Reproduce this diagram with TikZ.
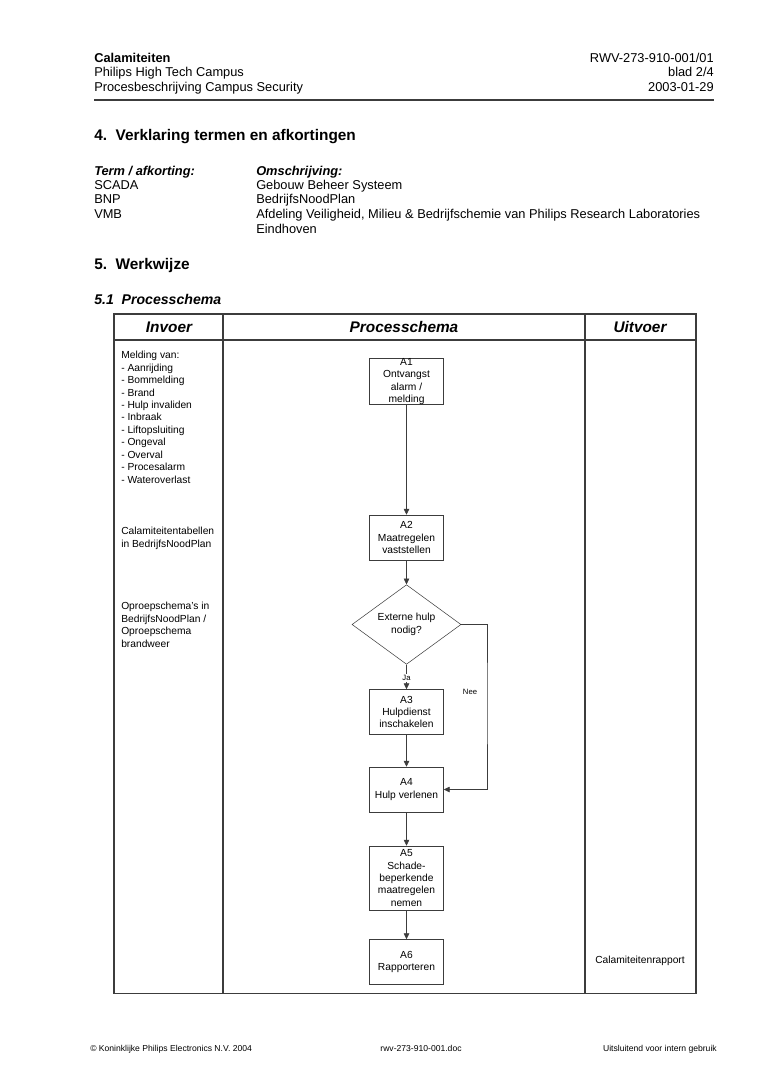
\documentclass[tikz,border=0pt]{standalone}
\usepackage{fontspec}
\setmainfont{Liberation Sans}
\usetikzlibrary{shapes.geometric,arrows.meta}
\definecolor{lijn}{RGB}{60,60,60}

\begin{document}
\begin{tikzpicture}[x=0.78pt, y=-0.78pt,
    txt/.style={inner sep=0, anchor=base west, font=\fontsize{10}{11.5}\selectfont},
    kop/.style={inner sep=0, anchor=base west, font=\fontsize{12}{14}\selectfont\bfseries},
    kolom/.style={inner sep=0, anchor=base, font=\fontsize{12}{14}\selectfont\bfseries\itshape},
    klein/.style={inner sep=0, anchor=north west, align=left, font=\fontsize{8}{9.7}\selectfont},
    voet/.style={inner sep=0, anchor=base, font=\fontsize{6.7}{8}\selectfont},
    blok/.style={draw=lijn, thin, minimum width=57.7pt, minimum height=35.1pt, inner sep=0, align=center, font=\fontsize{8}{9.7}\selectfont},
    keuze/.style={draw=lijn, thin, diamond, minimum width=85pt, minimum height=50.7pt, inner sep=0, align=center, font=\fontsize{8}{9.7}\selectfont},
    pijl/.style={draw=lijn, thin, -{Triangle[length=4.5pt,width=4.2pt]}}]
  \useasboundingbox (0,0) rectangle (764,1080);
  \fill[white] (0,0) rectangle (764,1080);

  % kop van de pagina
  \node[txt, font=\fontsize{10}{11.5}\selectfont\bfseries] (titel) at (94,62.5) {Calamiteiten};
  \node[txt] (campus) at (94,76.5) {Philips High Tech Campus};
  \node[txt] (proces) at (94,91.5) {Procesbeschrijving Campus Security};
  \node[txt, anchor=base east] (nummer) at (714,62.5) {RWV-273-910-001/01};
  \node[txt, anchor=base east] (blad) at (714,76.5) {blad 2/4};
  \node[txt, anchor=base east] (datum) at (714,91.5) {2003-01-29};
  \draw[lijn, line width=0.9pt] (94,100) -- (714,100);

  % hoofdstuk 4
  \node[kop] (h4) at (94,140.5) {4.\ \ Verklaring termen en afkortingen};
  \node[txt, font=\fontsize{10}{11.5}\selectfont\bfseries\itshape] (term) at (94,175.5) {Term / afkorting:};
  \node[txt, font=\fontsize{10}{11.5}\selectfont\bfseries\itshape] (omschr) at (256,175.5) {Omschrijving:};
  \node[txt] (t1) at (94,189.5) {SCADA};
  \node[txt] (t2) at (94,203.5) {BNP};
  \node[txt] (t3) at (94,218.5) {VMB};
  \node[txt] (o1) at (256,189.5) {Gebouw Beheer Systeem};
  \node[txt] (o2) at (256,203.5) {BedrijfsNoodPlan};
  \node[txt] (o3) at (256,218.5) {Afdeling Veiligheid, Milieu \& Bedrijfschemie van Philips Research Laboratories};
  \node[txt] (o4) at (256,233.5) {Eindhoven};

  % hoofdstuk 5
  \node[kop] (h5) at (94,269.5) {5.\ \ Werkwijze};
  \node[kop, font=\fontsize{11}{13}\selectfont\bfseries\itshape] (h51) at (94,304) {5.1\ \ Processchema};

  % tabel
  \draw[lijn, line width=0.8pt] (114,314) rectangle (696,993);
  \draw[lijn, line width=0.8pt] (114,340) -- (696,340);
  \draw[lijn, line width=0.8pt] (223,314) -- (223,993);
  \draw[lijn, line width=0.8pt] (585,314) -- (585,993);
  \node[kolom] (invoer) at (169,332.5) {Invoer};
  \node[kolom] (schema) at (404,332.5) {Processchema};
  \node[kolom] (uitvoer) at (640,332.5) {Uitvoer};

  % invoer
  \node[klein] (melding) at (121,351) {Melding van:\\- Aanrijding\\- Bommelding\\- Brand\\- Hulp invaliden\\- Inbraak\\- Liftopsluiting\\- Ongeval\\- Overval\\- Procesalarm\\- Wateroverlast};
  \node[klein] (tabellen) at (121,527) {Calamiteitentabellen\\in BedrijfsNoodPlan};
  \node[klein] (oproep) at (121,602) {Oproepschema's in\\BedrijfsNoodPlan /\\Oproepschema\\brandweer};

  % uitvoer
  \node[inner sep=0, font=\fontsize{8}{9.7}\selectfont] (rapport) at (640,961) {Calamiteitenrapport};

  % processchema
  \node[blok] (A1) at (406.5,381.5) {A1\\Ontvangst\\alarm /\\melding};
  \node[blok] (A2) at (406.5,537.5) {A2\\Maatregelen\\vaststellen};
  \node[keuze] (D) at (406.5,624.5) {Externe hulp\\nodig?};
  \node[blok] (A3) at (406.5,712) {A3\\Hulpdienst\\inschakelen};
  \node[blok] (A4) at (406.5,789.5) {A4\\Hulp verlenen};
  \node[blok, minimum height=50pt] (A5) at (406.5,878) {A5\\Schade-\\beperkende\\maatregelen\\nemen};
  \node[blok] (A6) at (406.5,962) {A6\\Rapporteren};
  \coordinate (nee) at (487,700);

  \draw[pijl] (A1) -- (A2);
  \draw[pijl] (A2) -- (D);
  \draw[pijl] (D) -- node[fill=white, inner sep=1pt, font=\fontsize{6}{7}\selectfont, pos=0.55] {Ja} (A3);
  \draw[pijl] (D.east) -| (nee) |- (A4.east);
  \node[inner sep=0, font=\fontsize{6}{7}\selectfont] (neetekst) at (470,692) {Nee};
  \draw[pijl] (A3) -- (A4);
  \draw[pijl] (A4) -- (A5);
  \draw[pijl] (A5) -- (A6);

  % voet van de pagina
  \node[voet, anchor=base west] (copy) at (90,1051) {\textcopyright\ Koninklijke Philips Electronics N.V. 2004};
  \node[voet] (bestand) at (421,1051) {rwv-273-910-001.doc};
  \node[voet, anchor=base east] (intern) at (717,1051) {Uitsluitend voor intern gebruik};
\end{tikzpicture}
\end{document}
